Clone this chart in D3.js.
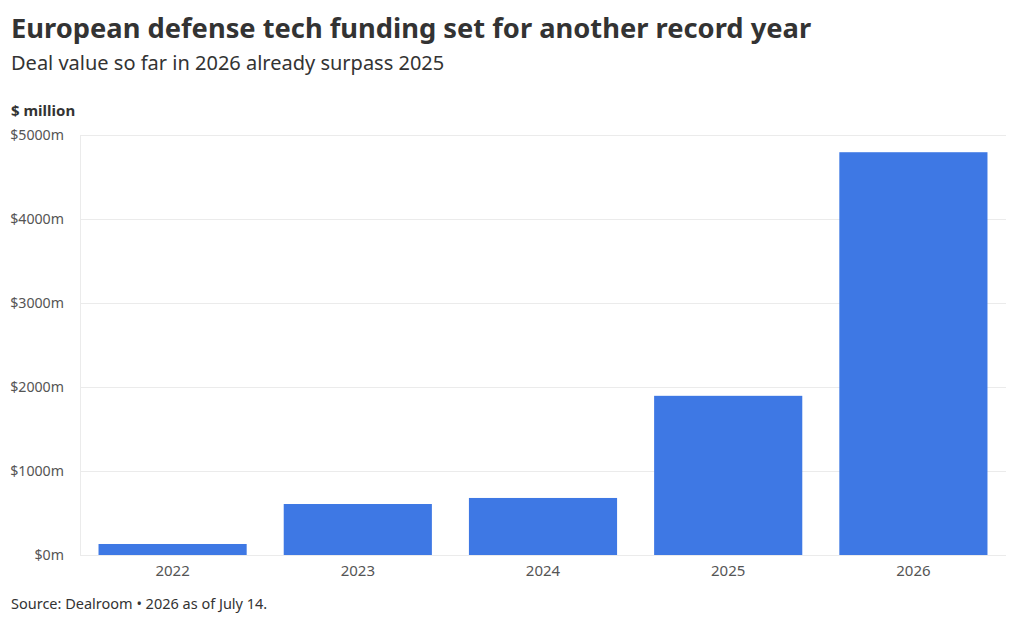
<!DOCTYPE html>
<meta charset="utf-8">
<style>
body { margin: 0; background: #fff; }
text { font-family: "Noto Sans", sans-serif; fill: #333; }
.grid line { stroke: #ebebeb; }
.grid path { display: none; }
.axis text { font-size: 15px; fill: #555; }
.axis.y text { font-size: 14.2px; }
.axis path, .axis line { display: none; }
</style>
<svg width="1020" height="623"></svg>
<script src="https://d3js.org/d3.v7.min.js"></script>
<script>

var years = ["2022", "2023", "2024", "2025", "2026"];
var dealValue = [131, 607, 679, 1895, 4795];
var yTicks = [0, 1000, 2000, 3000, 4000, 5000];

var svg = d3.select("svg");
var margin = {top: 135, right: 14, bottom: 68, left: 80};
var width = 1020 - margin.left - margin.right,
    height = 623 - margin.top - margin.bottom;

svg.append("text").attr("x", 11).attr("y", 38)
    .style("font-size", "27.3px").style("font-weight", "bold")
    .text("European defense tech funding set for another record year");
svg.append("text").attr("x", 11).attr("y", 70)
    .style("font-size", "20px")
    .text("Deal value so far in 2026 already surpass 2025");
svg.append("text").attr("x", 11).attr("y", 116)
    .style("font-size", "15px").style("font-weight", "bold")
    .text("$ million");
svg.append("text").attr("x", 11).attr("y", 609)
    .style("font-size", "14.5px")
    .text("Source: Dealroom \u2022 2026 as of July 14.");

var g = svg.append("g").attr("transform", "translate(" + margin.left + "," + margin.top + ")");

var x = d3.scaleBand().domain(years).range([0, width]).paddingInner(0.2).paddingOuter(0.1);
var y = d3.scaleLinear().domain([0, 5000]).range([height, 0]);

g.append("g").attr("class", "grid")
    .call(d3.axisLeft(y).tickValues(yTicks).tickSize(-width).tickFormat(""));

g.append("line").attr("x1", 0.5).attr("x2", 0.5).attr("y1", 0).attr("y2", height)
    .attr("stroke", "#ebebeb");

g.append("g").attr("class", "axis y")
    .call(d3.axisLeft(y).tickValues(yTicks).tickPadding(10).tickFormat(function(d) { return "$" + d + "m"; }))
  .selectAll("text").attr("dy", "0.35em");

g.append("g").attr("class", "axis x")
    .attr("transform", "translate(0," + height + ")")
    .call(d3.axisBottom(x).tickPadding(4));

g.selectAll(".bar")
    .data(years.map(function(d, i) { return {year: d, value: dealValue[i]}; }))
  .enter().append("rect")
    .attr("class", "bar")
    .attr("x", function(d) { return x(d.year); })
    .attr("width", x.bandwidth())
    .attr("y", function(d) { return y(d.value); })
    .attr("height", function(d) { return height - y(d.value); })
    .attr("fill", "#3e78e4");

</script>
